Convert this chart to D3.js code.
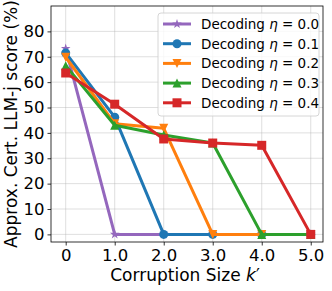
<!DOCTYPE html>
<html>
<head>
  <meta charset="utf-8" />
  <script src="https://d3js.org/d3.v7.min.js"></script>
  <style>
    body { margin: 0; background: white; }
    svg text { font-family: "DejaVu Sans", sans-serif; fill: black; }
  </style>
</head>
<body>
  <svg id="chart" width="332" height="291"></svg>
  <script>
    // data
    const kValues = [0, 1, 2, 3, 4, 5];
    const xTickLabels = ["0", "1.0", "2.0", "3.0", "4.0", "5.0"];
    const yTicks = [0, 10, 20, 30, 40, 50, 60, 70, 80];
    const etaLabels = ["0.0", "0.1", "0.2", "0.3", "0.4"];
    const eta00 = [73.2, 0, 0, 0, 0, 0];
    const eta01 = [71.5, 46.2, 0, 0, 0, 0];
    const eta02 = [69.8, 43.6, 41.8, 0, 0, 0];
    const eta03 = [66.5, 43.0, 39.2, 36.0, 0, 0];
    const eta04 = [63.6, 51.3, 37.6, 36.0, 35.1, 0];

    const seriesList = [
      { eta: etaLabels[0], values: eta00, color: "#9467bd", marker: "star" },
      { eta: etaLabels[1], values: eta01, color: "#1f77b4", marker: "circle" },
      { eta: etaLabels[2], values: eta02, color: "#ff7f0e", marker: "tridown" },
      { eta: etaLabels[3], values: eta03, color: "#2ca02c", marker: "triup" },
      { eta: etaLabels[4], values: eta04, color: "#d62728", marker: "square" }
    ];

    const svg = d3.select("#chart");
    const margin = { left: 51, right: 9, top: 6, bottom: 49 };
    const plotW = 332 - margin.left - margin.right;
    const plotH = 291 - margin.top - margin.bottom;

    const x = d3.scaleLinear().domain([-0.3, 5.25]).range([0, plotW]);
    const y = d3.scaleLinear().domain([-3, 90]).range([plotH, 0]);

    const g = svg.append("g").attr("transform", `translate(${margin.left},${margin.top})`);

    // grid
    g.append("g").selectAll("line").data(kValues).join("line")
      .attr("x1", d => x(d)).attr("x2", d => x(d))
      .attr("y1", 0).attr("y2", plotH)
      .attr("stroke", "#b0b0b0").attr("stroke-opacity", 0.5).attr("stroke-width", 0.8);
    g.append("g").selectAll("line").data(yTicks).join("line")
      .attr("y1", d => y(d)).attr("y2", d => y(d))
      .attr("x1", 0).attr("x2", plotW)
      .attr("stroke", "#b0b0b0").attr("stroke-opacity", 0.5).attr("stroke-width", 0.8);

    // axes
    const xAxis = g.append("g").attr("transform", `translate(0,${plotH})`)
      .call(d3.axisBottom(x).tickValues(kValues).tickFormat((d, i) => xTickLabels[i]).tickSize(3.5).tickPadding(3.5));
    const yAxis = g.append("g")
      .call(d3.axisLeft(y).tickValues(yTicks).tickSize(3.5).tickPadding(3));
    [xAxis, yAxis].forEach(a => {
      a.select(".domain").remove();
      a.selectAll("line").attr("stroke", "#000").attr("stroke-width", 0.8);
      a.selectAll("text").attr("font-size", 16.5).attr("font-family", "DejaVu Sans");
    });

    // frame
    g.append("rect").attr("width", plotW).attr("height", plotH)
      .attr("fill", "none").attr("stroke", "#000").attr("stroke-width", 0.8);

    // markers
    function markerPath(type, size) {
      const s = size;
      if (type === "circle") return d3.symbol(d3.symbolCircle, s * s * Math.PI / 4)();
      if (type === "square") return d3.symbol(d3.symbolSquare, s * s)();
      if (type === "star") return d3.symbol(d3.symbolStar, s * s * 0.35)();
      if (type === "triup") return `M0,${-s / 2}L${s / 2},${s / 2}L${-s / 2},${s / 2}Z`;
      if (type === "tridown") return `M0,${s / 2}L${s / 2},${-s / 2}L${-s / 2},${-s / 2}Z`;
    }

    const line = d3.line().x((d, i) => x(kValues[i])).y(d => y(d));
    const lines = g.append("g");
    seriesList.forEach(s => {
      const sg = lines.append("g");
      sg.append("path").datum(s.values)
        .attr("fill", "none").attr("stroke", s.color).attr("stroke-width", 3)
        .attr("stroke-linejoin", "round").attr("d", line);
      sg.selectAll("path.m").data(s.values).join("path")
        .attr("class", "m")
        .attr("transform", (d, i) => `translate(${x(kValues[i])},${y(d)})`)
        .attr("d", markerPath(s.marker, 9))
        .attr("fill", s.color);
    });

    // axis labels
    svg.append("text")
      .attr("x", margin.left + plotW / 2 - 2).attr("y", 281)
      .attr("text-anchor", "middle").attr("font-size", 17)
      .html('Corruption Size <tspan font-style="italic">k</tspan>′');
    svg.append("text")
      .attr("transform", `translate(17,${margin.top + plotH / 2})rotate(-90)`)
      .attr("text-anchor", "middle").attr("font-size", 17)
      .text("Approx. Cert. LLM-j score (%)");

    // legend
    const legend = svg.append("g").attr("transform", "translate(158,13)");
    legend.append("rect").attr("width", 161).attr("height", 103)
      .attr("rx", 3).attr("fill", "white").attr("fill-opacity", 0.8)
      .attr("stroke", "#cccccc").attr("stroke-width", 0.8);
    seriesList.forEach((s, i) => {
      const row = legend.append("g").attr("transform", `translate(0,${11 + i * 19.7})`);
      row.append("line").attr("x1", 5).attr("x2", 33)
        .attr("stroke", s.color).attr("stroke-width", 3);
      row.append("path").attr("transform", "translate(19,0)")
        .attr("d", markerPath(s.marker, 9)).attr("fill", s.color);
      row.append("text").attr("x", 43).attr("y", 5).attr("font-size", 13.5)
        .html(`Decoding <tspan font-style="italic">η</tspan> = ${s.eta}`);
    });
  </script>
</body>
</html>
